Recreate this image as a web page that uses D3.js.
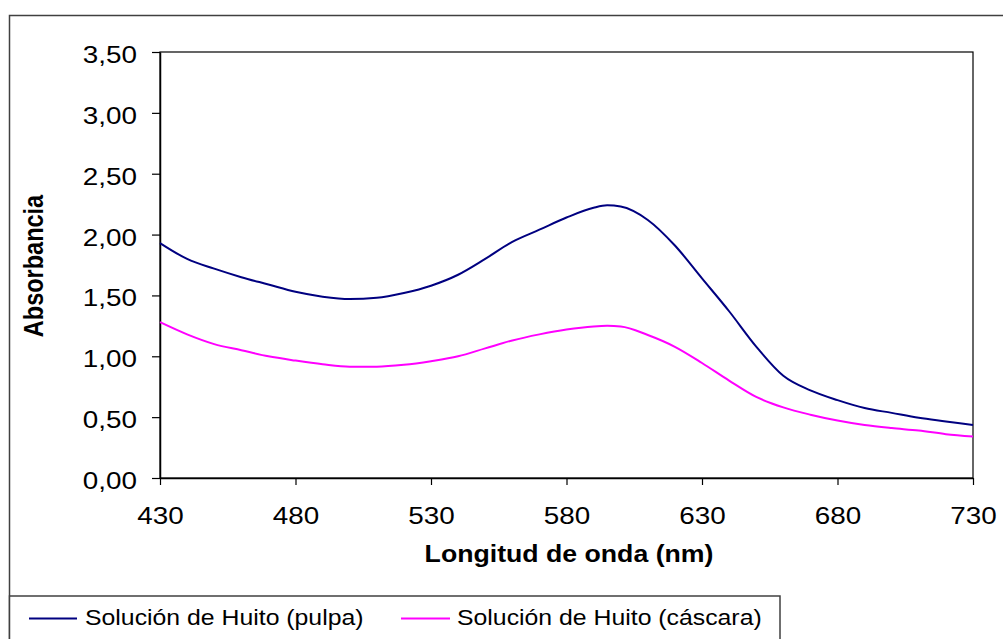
<!DOCTYPE html>
<html>
<head>
<meta charset="utf-8">
<script src="https://cdn.jsdelivr.net/npm/d3@7"></script>
<style>
  html, body { margin: 0; padding: 0; background: #fff; }
  svg { display: block; font-family: "Liberation Sans", Arial, sans-serif; }
</style>
</head>
<body>
<svg id="chart" width="1003" height="639"></svg>
<script>
// ---- data ----
const wavelengths = [430,440,450,460,470,480,490,500,510,520,530,540,550,560,570,580,590,595,600,610,620,630,640,650,660,670,680,690,700,710,720,730];
const pulpa   = [1.93,1.80,1.72,1.65,1.59,1.53,1.49,1.47,1.48,1.52,1.58,1.67,1.80,1.94,2.04,2.14,2.22,2.24,2.23,2.12,1.91,1.64,1.37,1.08,0.84,0.72,0.64,0.575,0.535,0.495,0.465,0.435];
const cascara = [1.28,1.18,1.10,1.05,1.00,0.965,0.935,0.915,0.915,0.93,0.96,1.00,1.065,1.13,1.18,1.22,1.245,1.25,1.245,1.175,1.078,0.945,0.80,0.666,0.58,0.52,0.472,0.435,0.41,0.39,0.36,0.34];
const seriesNames = ["Solución de Huito (pulpa)", "Solución de Huito (cáscara)"];
const seriesColors = ["#000080", "#FF00FF"];
const xTicks = [430,480,530,580,630,680,730];
const yTicks = [0,0.5,1,1.5,2,2.5,3,3.5];
const xTitle = "Longitud de onda (nm)";
const yTitle = "Absorbancia";

// ---- layout ----
const SX = 1.16; // horizontal glyph stretch seen in reference
const svg = d3.select("#chart");
const plot = { left: 160, right: 973, top: 52, bottom: 478 };

const x = d3.scaleLinear().domain([430, 730]).range([plot.left, plot.right]);
const y = d3.scaleLinear().domain([0, 3.5]).range([plot.bottom, plot.top]);

// outer chart border (only top/left visible in frame)
svg.append("rect")
  .attr("x", 9.5).attr("y", 15.5).attr("width", 1100).attr("height", 700)
  .attr("fill", "#fff").attr("stroke", "#404040").attr("stroke-width", 1.5);

// plot area frame
svg.append("rect")
  .attr("x", plot.left).attr("y", plot.top)
  .attr("width", plot.right - plot.left).attr("height", plot.bottom - plot.top)
  .attr("fill", "#fff").attr("stroke", "#000").attr("stroke-width", 1.2);

// axes
const yAxis = d3.axisLeft(y).tickValues(yTicks).tickSize(8).tickSizeOuter(0)
  .tickFormat(d => d3.format(".2f")(d).replace(".", ","));
const gy = svg.append("g").attr("transform", `translate(${plot.left},0)`).call(yAxis);
gy.select(".domain").attr("stroke", "#000").attr("stroke-width", 1.5);
gy.selectAll(".tick line").attr("stroke", "#000").attr("stroke-width", 1.2);
gy.selectAll(".tick text")
  .attr("font-size", 24).attr("fill", "#000")
  .attr("font-family", "'Liberation Sans', Arial, sans-serif")
  .attr("x", -23 / SX).attr("dy", null).attr("y", 10.5)
  .attr("transform", `scale(${SX},1)`);

const xAxis = d3.axisBottom(x).tickValues(xTicks).tickSize(7).tickSizeOuter(0)
  .tickFormat(d3.format("d"));
const gx = svg.append("g").attr("transform", `translate(0,${plot.bottom})`).call(xAxis);
gx.select(".domain").attr("stroke", "#000").attr("stroke-width", 1.5);
gx.selectAll(".tick line").attr("stroke", "#000").attr("stroke-width", 1.2);
gx.selectAll(".tick text")
  .attr("font-size", 24).attr("fill", "#000")
  .attr("font-family", "'Liberation Sans', Arial, sans-serif")
  .attr("dy", null).attr("y", 46)
  .attr("transform", `scale(${SX},1)`);

// lines
const line = d3.line().x((d, i) => x(wavelengths[i])).y(d => y(d)).curve(d3.curveMonotoneX);
[pulpa, cascara].forEach((s, k) => {
  svg.append("path").datum(s)
    .attr("d", line).attr("fill", "none")
    .attr("stroke", seriesColors[k]).attr("stroke-width", 2);
});

// text helper with horizontal stretch
function addText(px, py, str, size, weight, anchor, rotate) {
  const g = svg.append("g").attr("transform",
    `translate(${px},${py})` + (rotate ? ` rotate(${rotate})` : "") + (rotate ? ` scale(1,${SX})` : ` scale(${SX},1)`));
  g.append("text").text(str)
    .attr("font-size", size).attr("font-weight", weight)
    .attr("text-anchor", anchor).attr("fill", "#000");
  return g;
}

// axis titles
addText(569, 562, xTitle, 23, "bold", "middle");
addText(43, 266, yTitle, 23.5, "bold", "middle", -90);

// legend
svg.append("rect")
  .attr("x", 9.5).attr("y", 596).attr("width", 770.5).attr("height", 100)
  .attr("fill", "#fff").attr("stroke", "#404040").attr("stroke-width", 1.5);
const legendItems = [
  { lx1: 29, lx2: 77, tx: 85 },
  { lx1: 401, lx2: 450, tx: 457 }
];
legendItems.forEach((it, k) => {
  svg.append("line")
    .attr("x1", it.lx1).attr("x2", it.lx2).attr("y1", 618.5).attr("y2", 618.5)
    .attr("stroke", seriesColors[k]).attr("stroke-width", 2);
  addText(it.tx, 625, seriesNames[k], 21.4, "normal", "start");
});
</script>
</body>
</html>
